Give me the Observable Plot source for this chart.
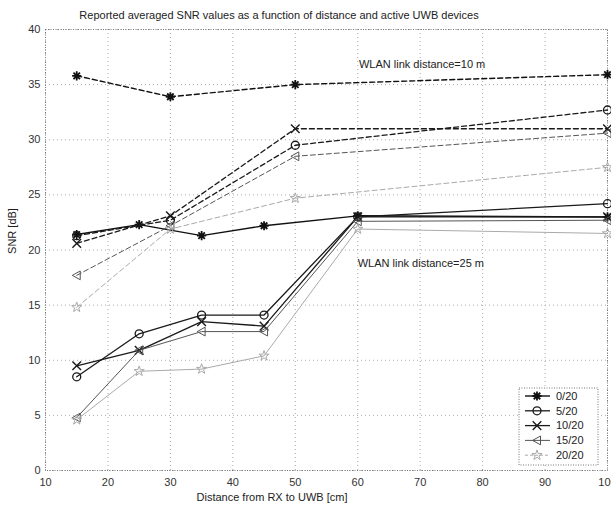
<!DOCTYPE html>
<html>
<head>
<meta charset="utf-8">
<script src="https://cdn.jsdelivr.net/npm/d3@7"></script>
<script src="https://cdn.jsdelivr.net/npm/@observablehq/plot@0.6"></script>
<style>
  body { margin: 0; background: #fff; }
  #chart { width: 611px; height: 508px; }
</style>
</head>
<body>
<div id="chart"></div>
<script>
// Number of active UWB devices
const devices = ["0/20", "5/20", "10/20", "15/20", "20/20"];

// Distances from RX to UWB (cm) at which SNR was averaged
const dist10m = [15, 30, 50, 100];
const dist25m = [15, 25, 35, 45, 60, 100];

// Averaged SNR (dB), WLAN link distance = 10 m
const snr10m_0 = [35.8, 33.9, 35.0, 35.9];
const snr10m_5 = [21.3, 22.7, 29.5, 32.7];
const snr10m_10 = [20.6, 23.1, 31.0, 31.0];
const snr10m_15 = [17.7, 22.2, 28.5, 30.6];
const snr10m_20 = [14.8, 21.9, 24.7, 27.5];

// Averaged SNR (dB), WLAN link distance = 25 m
const snr25m_0 = [21.4, 22.3, 21.3, 22.2, 23.1, 23.0];
const snr25m_5 = [8.5, 12.4, 14.1, 14.1, 23.0, 24.2];
const snr25m_10 = [9.5, 10.9, 13.5, 13.1, 23.0, 23.0];
const snr25m_15 = [4.8, 10.9, 12.6, 12.6, 22.6, 22.7];
const snr25m_20 = [4.6, 9.0, 9.2, 10.4, 21.9, 21.5];

// Axis ticks
const xTicks = [10, 20, 30, 40, 50, 60, 70, 80, 90, 100];
const yTicks = [0, 5, 10, 15, 20, 25, 30, 35, 40];

// In-plot annotations
const noteText = ["WLAN link distance=10 m", "WLAN link distance=25 m"];
const noteX = [60.2, 60.0];
const noteY = [36.8, 18.8];

const titleText = "Reported averaged SNR values as a function of distance and active UWB devices";
const xLabel = "Distance from RX to UWB [cm]";
const yLabel = "SNR [dB]";

// ---- styles per device count ----
const asterisk8 = {
  draw(ctx, size) {
    const r = Math.sqrt(size / Math.PI) * 1.15, d = r * Math.SQRT1_2;
    ctx.moveTo(-r, 0); ctx.lineTo(r, 0);
    ctx.moveTo(0, -r); ctx.lineTo(0, r);
    ctx.moveTo(-d, -d); ctx.lineTo(d, d);
    ctx.moveTo(-d, d); ctx.lineTo(d, -d);
  }
};
const triangleLeft = {
  draw(ctx, size) {
    const r = Math.sqrt(size / Math.PI) * 1.1;
    ctx.moveTo(-r, 0); ctx.lineTo(r * 0.8, -r); ctx.lineTo(r * 0.8, r); ctx.closePath();
  }
};
const markerSymbols = [asterisk8, "circle", "times", triangleLeft, "star"];
const markerRadius = [4, 4, 4, 4, 3.2];
const lineColors = ["#111", "#1a1a1a", "#1a1a1a", "#555", "#aaa"];
const lineWidths = [1.4, 1.3, 1.3, 1.0, 1.0];
const markerWidths = [1.8, 1.3, 1.4, 1.0, 1.0];

const table10 = [snr10m_0, snr10m_5, snr10m_10, snr10m_15, snr10m_20];
const table25 = [snr25m_0, snr25m_5, snr25m_10, snr25m_15, snr25m_20];

function rows(xs, ys, device) {
  return xs.map((d, j) => ({ device, dist: d, snr: ys[j] }));
}

const marks = [
  Plot.ruleX(xTicks, { stroke: "#aaa", strokeDasharray: "1,3" }),
  Plot.ruleY(yTicks, { stroke: "#aaa", strokeDasharray: "1,3" }),
  Plot.frame({ stroke: "#777", strokeDasharray: "1,1.5" })
];

devices.forEach((dev, i) => {
  const r10 = rows(dist10m, table10[i], dev);
  const r25 = rows(dist25m, table25[i], dev);
  marks.push(
    Plot.line(r10, { x: "dist", y: "snr", stroke: lineColors[i], strokeWidth: lineWidths[i], strokeDasharray: "5,3" }),
    Plot.line(r25, { x: "dist", y: "snr", stroke: lineColors[i], strokeWidth: lineWidths[i] }),
    Plot.dot(r10.concat(r25), { x: "dist", y: "snr", symbol: markerSymbols[i], r: markerRadius[i], fill: "none", stroke: lineColors[i], strokeWidth: markerWidths[i] })
  );
});

marks.push(
  Plot.text(noteText.map((t, i) => ({ t, x: noteX[i], y: noteY[i] })), {
    x: "x", y: "y", text: "t", textAnchor: "start", fontSize: 11, fill: "#222"
  })
);

const chart = Plot.plot({
  width: 611,
  height: 508,
  marginLeft: 45,
  marginRight: 4,
  marginTop: 29,
  marginBottom: 38,
  style: { fontFamily: "'Liberation Sans', Arial, sans-serif", fontSize: "11px", color: "#333", background: "#fff", overflow: "visible" },
  x: { domain: [10, 100], ticks: xTicks, tickSize: 0, tickPadding: 8, label: null },
  y: { domain: [0, 40], ticks: yTicks, tickSize: 0, tickPadding: 5, label: null },
  marks
});

document.getElementById("chart").appendChild(chart);

// Title, axis labels and legend in pixel space
const svg = d3.select(chart);
svg.append("text").attr("x", 279).attr("y", 19).attr("text-anchor", "middle")
  .attr("font-size", 11).attr("fill", "#222").text(titleText);
svg.append("text").attr("x", 272).attr("y", 501).attr("text-anchor", "middle")
  .attr("font-size", 11).attr("fill", "#222").text(xLabel);
svg.append("text").attr("transform", "translate(16,231) rotate(-90)").attr("text-anchor", "middle")
  .attr("font-size", 11).attr("fill", "#222").text(yLabel);

const lg = svg.append("g");
lg.append("rect").attr("x", 519).attr("y", 388).attr("width", 79).attr("height", 77)
  .attr("fill", "#fff").attr("stroke", "#777").attr("stroke-dasharray", "1,1.5");
devices.forEach((dev, i) => {
  const y = 396 + i * 14.8;
  lg.append("line").attr("x1", 525).attr("x2", 550).attr("y1", y).attr("y2", y)
    .attr("stroke", lineColors[i]).attr("stroke-width", lineWidths[i])
    .attr("stroke-dasharray", i === 4 ? "3,2" : null);
  const sym = typeof markerSymbols[i] === "string"
    ? { circle: d3.symbolCircle, times: d3.symbolTimes, star: d3.symbolStar }[markerSymbols[i]]
    : markerSymbols[i];
  const rr = markerRadius[i];
  lg.append("path").attr("transform", `translate(537,${y})`)
    .attr("d", d3.symbol(sym, Math.PI * rr * rr)())
    .attr("fill", "none").attr("stroke", lineColors[i]).attr("stroke-width", markerWidths[i]);
  lg.append("text").attr("x", 556).attr("y", y).attr("dy", "0.35em").attr("text-anchor", "start")
    .attr("font-size", 11).attr("fill", "#222").text(dev);
});
</script>
</body>
</html>
